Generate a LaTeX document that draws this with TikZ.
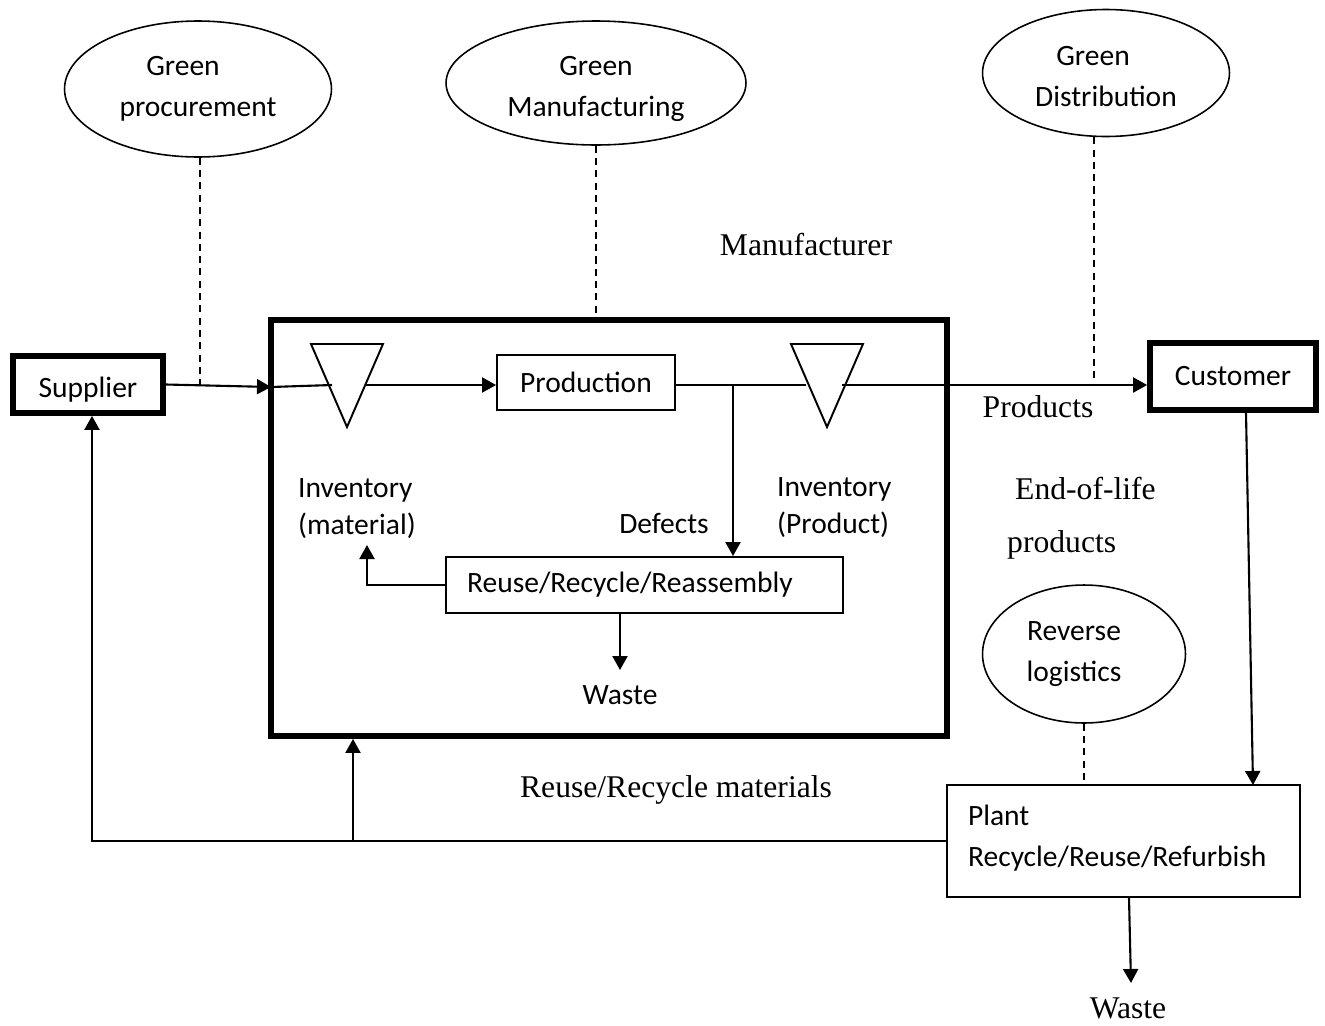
\documentclass[tikz,border=0pt]{standalone}
\usepackage{fontspec}
\setmainfont{Liberation Serif}
\newfontfamily\carl{Carlito}
\usetikzlibrary{arrows.meta,shapes.geometric,calc}

\begin{document}
\begin{tikzpicture}[x=0.02cm,y=-0.02cm,
  sans/.style={font=\carl\fontsize{16.8}{23.5}\selectfont},
  serif/.style={font=\fontsize{18}{22}\selectfont},
  bubble/.style={draw, ellipse, line width=0.9pt, inner sep=0pt, align=center, sans},
  thickbox/.style={draw, line width=3.3pt, inner sep=0pt, sans},
  thinbox/.style={draw, line width=1.1pt, inner sep=0pt, sans},
  flow/.style={line width=1.2pt},
  arr/.style={flow, -{Triangle[length=0.28cm,width=0.3cm]}},
  link/.style={line width=0.9pt, dash pattern=on 4pt off 3pt},
  tri/.style={line width=1.1pt, line join=miter},
  stack/.style={sans, align=left, anchor=west, font=\carl\fontsize{16.8}{21}\selectfont},
]
\useasboundingbox (0,0) rectangle (1325,1025);

% ---- green practices (ellipses) ----
\node[bubble, minimum width=5.34cm, minimum height=2.72cm] (gp) at (198,89)
  {Green\hspace*{0.6cm}\\procurement};
\node[bubble, minimum width=6.0cm, minimum height=2.48cm] (gm) at (596,83)
  {\rule{0pt}{17.6pt}Green\\Manufacturing};
\node[bubble, minimum width=4.94cm, minimum height=2.54cm] (gd) at (1106,73)
  {\rule{0pt}{15.3pt}Green\hspace*{0.52cm}\\Distribution};
\node[bubble, minimum width=4.06cm, minimum height=2.76cm] (rl) at (1084,654)
  {Reverse\hspace*{0.4cm}\\logistics\hspace*{0.4cm}};

% ---- main actors ----
\node[thickbox, minimum width=3.0cm, minimum height=1.14cm, text height=14.3pt, text depth=0pt] (sup) at (88,384.5) {Supplier};
\node[thickbox, minimum width=3.32cm, minimum height=1.34cm] (cust) at (1233,376.5) {Customer};
\node[thickbox, line width=3.4pt, minimum width=13.52cm, minimum height=8.32cm] (mfr) at (609,528) {};

% ---- inside the manufacturer ----
\node[thinbox, minimum width=3.56cm, minimum height=1.1cm] (prod) at (586,382.5) {Production};
\node[thinbox, minimum height=1.12cm, inner xsep=0.42cm, text width=7.1cm, align=left] (rrr) at (644.5,585)
  {Reuse/Recycle/Reassembly};

% inventory triangles
\coordinate (t1l) at (311,344); \coordinate (t1r) at (383,344); \coordinate (t1b) at (347,427);
\coordinate (t2l) at (791,344); \coordinate (t2r) at (863,344); \coordinate (t2b) at (827,427);
\draw[tri] (t1l) -- (t1r) -- (t1b) -- cycle;
\draw[tri] (t2l) -- (t2r) -- (t2b) -- cycle;

% ---- recovery plant ----
\node[thinbox, minimum height=2.24cm, inner xsep=0.42cm, text width=6.22cm, align=left] (plant) at (1123.5,841)
  {Plant\\Recycle/Reuse/Refurbish\rule[-0.2cm]{0pt}{0pt}};

% ---- labels ----
\node[serif] (lmfr) at (806,245) {Manufacturer};
\node[serif] (lprod) at (1038,407) {Products};
\node[serif, anchor=west] (leol1) at (1009,489) {End-of-life};
\node[serif, anchor=west] (leol2) at (1001,545) {products};
\node[serif] (lrrm) at (676,790) {Reuse/Recycle materials};
\node[serif] (lwaste2) at (1128,1008) {Waste};
\node[stack] (linvm) at (292,509) {Inventory\\(material)};
\node[stack] (linvp) at (771,508) {Inventory\\(Product)};
\node[sans] (ldef) at (664,523) {Defects};
\node[sans] (lwaste1) at (620,695) {Waste};

% ---- connection points ----
\coordinate (mIn) at (271,387);
\coordinate (gpj) at (200,385);
\coordinate (t1in) at (332,385);
\coordinate (t1out) at (366,385);
\coordinate (t2in) at (806,385);
\coordinate (t2out) at (842,385);
\coordinate (dj) at (733,385);
\coordinate (gdj) at (1094,381);
\coordinate (ret) at (367,545);
\coordinate (w1) at (620,670);
\coordinate (w2) at (1131,983);
\coordinate (cin) at (1253,785);
\coordinate (rj) at (353,842);

% ---- forward flow ----
\draw[arr] (sup.east) -- (mIn);
\draw[flow] (mIn) -- (t1in);
\draw[arr] (t1out) -- (t1out -| prod.west);
\draw[flow] (prod.east |- t2in) -- (t2in);
\draw[arr] (dj) -- (dj |- rrr.north);
\draw[arr] (t2out) -- (t2out -| cust.west);
\draw[arr] (rrr.west) -| (ret);
\draw[arr] (w1 |- rrr.south) -- (w1);

% ---- reverse flow ----
\draw[arr] ($(cust.south)+(13,0)$) -- (cin);
\draw[arr] ($(plant.south)+(5.5,0)$) -- (w2);
\draw[arr] (plant.west) -| ($(sup.south)+(4,0)$);
\draw[arr] (rj) -- (rj |- mfr.south);

% ---- dashed links to the green practices ----
\draw[link] (gpj |- gp.south) -- (gpj);
\draw[link] (gm.south) -- (gm.south |- mfr.north);
\draw[link] (gdj |- gd.south) -- (gdj);
\draw[link] (rl.south) -- (rl.south |- plant.north);
\end{tikzpicture}
\end{document}
